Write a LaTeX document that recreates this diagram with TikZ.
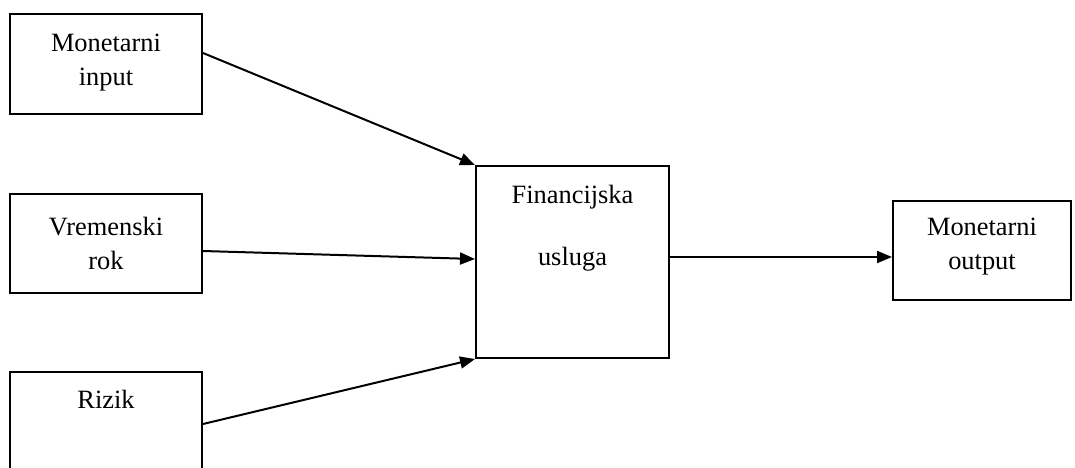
\documentclass[tikz,border=0pt]{standalone}
\usepackage{fontspec}
\setmainfont{Liberation Serif}
\usetikzlibrary{positioning, arrows.meta}

\newcommand{\kutija}[4]{\parbox[c][#2][t]{#1}{\centering\vspace*{#3}\strut #4}}

\begin{document}
\begin{tikzpicture} [on grid, blok/.style = {draw, line width = 1pt, inner sep = 0pt, font = \fontsize{13.2}{17}\selectfont}]

        \useasboundingbox (0,0) rectangle (537.5pt,-233.5pt);

        \node (fin) [blok] at (286.25pt,-131pt) {\kutija{96.5pt}{96pt}{6.6pt}{Financijska\\[14pt] usluga}};
        \node (inp) [blok, above left = 99pt and 233.25pt of fin] {\kutija{96pt}{50pt}{6.6pt}{Monetarni\\ input}};
        \node (rok) [blok, above left = 9.25pt and 233.25pt of fin] {\kutija{96pt}{49.5pt}{8.6pt}{Vremenski\\ rok}};
        \node (rizik) [blok, below left = 80pt and 233.25pt of fin] {\kutija{96pt}{50pt}{6.1pt}{Rizik}};
        \node (out) [blok, above right = 5.75pt and 204.75pt of fin] {\kutija{89pt}{49.5pt}{5.1pt}{Monetarni\\ output}};

        \path [-{Triangle[length=7.5pt, width=6pt]}, line width = 1pt]
            ([yshift=5.5pt]inp.east) edge (fin.north west)
            ([yshift=-3.75pt]rok.east) edge ([yshift=1.5pt]fin.west)
            ([yshift=-1pt]rizik.east) edge (fin.south west)
            ([yshift=2.5pt]fin.east) edge ([yshift=2.5pt]fin.east -| out.west);

    \end{tikzpicture}
\end{document}
